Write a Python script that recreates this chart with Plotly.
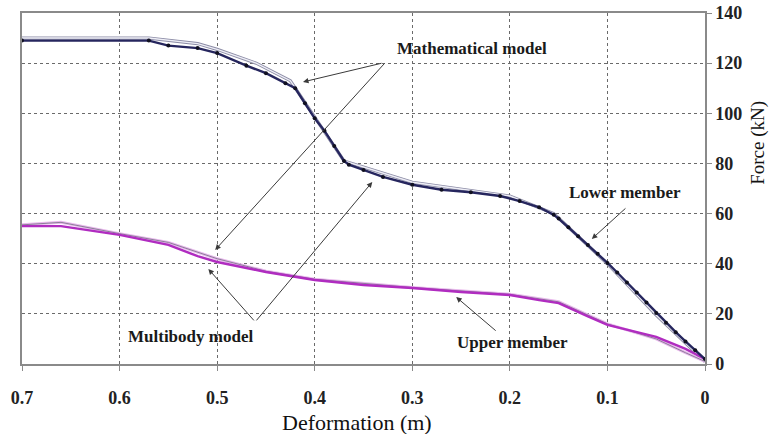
import plotly.graph_objects as go

# ---- data ----
lower_mb_x = [0.70, 0.57, 0.55, 0.52, 0.50, 0.47, 0.45, 0.43, 0.42, 0.41, 0.40, 0.39, 0.38,
              0.37, 0.365, 0.35, 0.33, 0.30, 0.27, 0.24, 0.21, 0.19, 0.17, 0.155, 0.15, 0.14,
              0.13, 0.12, 0.11, 0.10, 0.09, 0.08, 0.07, 0.06, 0.05, 0.04, 0.03, 0.02, 0.01, 0.0]
lower_mb_y = [129, 129, 127, 126, 124, 119, 116, 112, 110, 104, 98, 93, 87,
              81, 79.5, 77.4, 74.6, 71.5, 69.5, 68.5, 67, 65, 62.5, 59.5, 58, 54.5,
              51, 47.5, 44, 40.3, 36.5, 32.5, 28.5, 24.5, 20.3, 16.5, 12.7, 9, 5.5, 2]

lower_math_x = [0.70, 0.57, 0.52, 0.50, 0.46, 0.425, 0.37, 0.35, 0.30, 0.20, 0.155, 0.10, 0.05, 0.0]
lower_math_y = [130, 130, 127.8, 125.5, 120, 113, 81, 78.5, 72.5, 67, 60, 40, 19.5, 1]

upper_mb_x = [0.70, 0.66, 0.60, 0.55, 0.52, 0.50, 0.45, 0.40, 0.35, 0.30, 0.25, 0.20, 0.17,
              0.15, 0.12, 0.10, 0.05, 0.02, 0.0]
upper_mb_y = [55, 55, 51.5, 47.5, 43, 40.7, 36.7, 33.5, 31.5, 30.3, 28.7, 27.5, 25.5,
              24.3, 19, 15.6, 10.8, 6, 2]

upper_math_x = [0.70, 0.66, 0.60, 0.55, 0.50, 0.45, 0.40, 0.30, 0.20, 0.15, 0.10, 0.05, 0.02, 0.0]
upper_math_y = [55.5, 56.5, 52, 48.5, 42, 37, 33.8, 30.5, 27.8, 24.8, 16, 10, 4.5, 1]

x_ticks = [0.7, 0.6, 0.5, 0.4, 0.3, 0.2, 0.1, 0.0]
x_tick_labels = ["0.7", "0.6", "0.5", "0.4", "0.3", "0.2", "0.1", "0"]
y_ticks = [0, 20, 40, 60, 80, 100, 120, 140]

FONT = "Liberation Serif"

fig = go.Figure()

# mathematical model (outlined light line)
fig.add_trace(go.Scatter(x=lower_math_x, y=lower_math_y, mode="lines",
                         line=dict(color="#8c8ca6", width=3.2), hoverinfo="skip"))
fig.add_trace(go.Scatter(x=lower_math_x, y=lower_math_y, mode="lines",
                         line=dict(color="#eeeef6", width=1.4), hoverinfo="skip"))

fig.add_trace(go.Scatter(x=upper_math_x, y=upper_math_y, mode="lines",
                         line=dict(color="#e8b8ec", width=3), hoverinfo="skip"))
fig.add_trace(go.Scatter(x=upper_math_x, y=upper_math_y, mode="lines",
                         line=dict(color="#8a8098", width=1), hoverinfo="skip"))

# multibody model
fig.add_trace(go.Scatter(x=upper_mb_x, y=upper_mb_y, mode="lines",
                         line=dict(color="#b02cc0", width=2.4), hoverinfo="skip"))
fig.add_trace(go.Scatter(x=lower_mb_x, y=lower_mb_y, mode="lines+markers",
                         line=dict(color="#26265e", width=2.4),
                         marker=dict(color="#101020", size=4), hoverinfo="skip"))

# arrows (x,y = head, ax,ay = tail), data coords
arrows = [
    (0.412, 112.5, 0.330, 120.1),
    (0.502, 45.5, 0.327, 120.5),
    (0.509, 37.9, 0.461, 16.8),
    (0.341, 72.6, 0.461, 16.8),
    (0.116, 49.9, 0.080, 62.6),
    (0.255, 26.7, 0.213, 12.8),
]
for hx, hy, tx, ty in arrows:
    fig.add_annotation(x=hx, y=hy, ax=tx, ay=ty, xref="x", yref="y", axref="x", ayref="y",
                       text="", showarrow=True, arrowhead=2, arrowsize=1.1, arrowwidth=1,
                       arrowcolor="#3a3a3a", standoff=0, startstandoff=0)

labels = [
    ("Mathematical model", 0.239, 126),
    ("Multibody model", 0.527, 10.8),
    ("Lower member", 0.082, 68.6),
    ("Upper member", 0.197, 8.4),
]
for t, lx, ly in labels:
    fig.add_annotation(x=lx, y=ly, xref="x", yref="y", text="<b>%s</b>" % t, showarrow=False,
                       font=dict(family=FONT, size=17, color="#1a1a1a"))

# axis titles
fig.add_annotation(x=1.0, xref="paper", xshift=66, y=0.63, yref="paper", text="Force (kN)",
                   textangle=-90, showarrow=False, font=dict(family=FONT, size=19, color="#111"))
fig.add_annotation(x=0.49, xref="paper", y=0, yref="paper", yshift=-58, yanchor="middle",
                   text="Deformation (m)", showarrow=False,
                   font=dict(family=FONT, size=22, color="#111"))

fig.update_layout(
    width=777, height=434,
    margin=dict(l=22, r=72, t=13, b=70),
    paper_bgcolor="white", plot_bgcolor="white",
    showlegend=False,
    font=dict(family=FONT, color="#222"),
    xaxis=dict(range=[0.7, 0.0], tickvals=x_ticks, ticktext=x_tick_labels,
               showgrid=True, gridcolor="#6a6a6a", griddash="dot", gridwidth=1,
               showline=True, linecolor="#8a8a8a", linewidth=1.5, mirror=True,
               ticks="outside", ticklen=5, tickcolor="#8a8a8a",
               tickfont=dict(family=FONT, size=18, color="#222", weight="bold"),
               ticklabelstandoff=12, zeroline=False, automargin=False),
    yaxis=dict(range=[0, 140], tickvals=y_ticks, side="right",
               showgrid=True, gridcolor="#6a6a6a", griddash="dot", gridwidth=1,
               showline=True, linecolor="#8a8a8a", linewidth=1.5, mirror=True,
               ticks="outside", ticklen=5, tickcolor="#8a8a8a",
               tickfont=dict(family=FONT, size=18, color="#222", weight="bold"),
               zeroline=False, automargin=False),
)

fig.write_html("out.html")
